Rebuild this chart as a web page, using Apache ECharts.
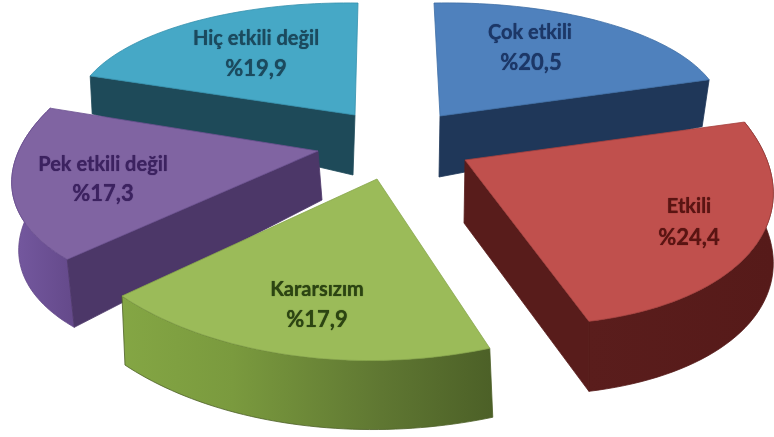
<!DOCTYPE html>
<html><head><meta charset="utf-8">
<style>html,body{margin:0;padding:0;background:#fff;overflow:hidden}#c{width:774px;height:437px;filter:blur(0.5px)}</style>
<script src="https://cdn.jsdelivr.net/npm/echarts@6/dist/echarts.min.js"></script>
</head><body><div id="c"></div>
<script>
var categories = ['Çok etkili','Etkili','Kararsızım','Pek etkili değil','Hiç etkili değil'];
var values = [20.5, 24.4, 17.9, 17.3, 19.9];

// Layout: each exploded slice has its own perspective frame (ellipse axes) as in the 3-D original.
var apex = [[440,116],[465,160],[377,179],[318,151],[355,115]];
var axisA = [[282,-5],[300,9],[355,7],[299,-5],[280,4]];
var axisB = [[-6,-113],[-31,-167],[-1,-176],[51,-151],[3,-112]];
var bulge = [0,.03,.04,.01,0];
var depthInner = [61,63,69,49,60];
var depthOuter = [47,70,69,68,38];
var tiltOuter = [-7,0,3,7,2];
var tiltInner = [-1,-1,0,4,-2];
var paintRank = [1,3,4,2,0];
var walls = [['end'],['end','rim'],['rim'],['start','rim'],['start']];
var labelName = [[530,33],[689,207],[317,290],[103,165],[256,39]];
var labelValue = [[531,63],[689,238],[317,320],[103,194],[256,69]];
var topColor = ['#4f81bd','#c0504d','#9bbb59','#8064a2','#46a8c6'];
var topEdge = ['#3f6ea6','#a5403e','#86a64a','#6b5090','#3590ad'];
var edgeColor = ['#1f3759','#581c1b','#4f6a2a','#4c3768','#1e4a59'];
var rimStops = [null,[['#5a1d1c',0],['#561a19',1]],[['#84a644',0],['#7a9a3e',.3],['#5f7732',.7],['#4c6027',1]],[['#7559a0',0],['#64498a',1]],null];
var textColor = ['#1c3767','#5a1412','#2c4412','#3c2260','#1b4a5e'];

var total = values.reduce(function(a,b){return a+b;},0);
function startAngle(i){var s=0;for(var k=0;k<i;k++)s+=values[k];return s/total*Math.PI*2;}
function rimPoint(i,t,u){var g=1+bulge[i]*Math.sin(Math.PI*u);
  return [apex[i][0]+g*(axisA[i][0]*Math.sin(t)+axisB[i][0]*Math.cos(t)),
          apex[i][1]+g*(axisA[i][1]*Math.sin(t)+axisB[i][1]*Math.cos(t))];}
function drop(i,p){return [p[0]+tiltOuter[i],p[1]+depthOuter[i]];}
function poly(points,fill,stroke,z){return {type:'polygon',shape:{points:points},z2:z,silent:true,
  style:{fill:fill,stroke:stroke,lineWidth:.8,lineJoin:'round'}};}
function label(pos,text,size,color){return {type:'text',z2:100,silent:true,style:{x:pos[0],y:pos[1],text:text,
  fill:color,font:'bold '+size+'px Lato',align:'center',verticalAlign:'middle',textShadowColor:color,textShadowBlur:1}};}

function renderItem(params,api){
  var i=params.dataIndex, v=api.value(0), a0=startAngle(i), a1=a0+v/total*Math.PI*2;
  var rank=paintRank[i]*10, arc=[], n=48;
  for(var k=0;k<=n;k++){arc.push(rimPoint(i,a0+(a1-a0)*k/n,k/n));}
  var ap=apex[i], apLow=[ap[0]+tiltInner[i],ap[1]+depthInner[i]], kids=[];
  walls[i].forEach(function(w){
    if(w==='rim'){
      var low=arc.map(function(p){return drop(i,p);}).reverse();
      var st=rimStops[i].map(function(s){return {color:s[0],offset:s[1]};});
      kids.push(poly(arc.concat(low),{type:'linear',x:0,y:0,x2:1,y2:0,colorStops:st},st[st.length-1].color,rank+1));
    }else{
      var e=w==='end'?arc[n]:arc[0];
      kids.push(poly([ap,e,drop(i,e),apLow],edgeColor[i],edgeColor[i],rank+2));
    }
  });
  kids.push(poly([ap].concat(arc),topColor[i],topEdge[i],rank+3));
  kids.push(label(labelName[i],categories[i],20,textColor[i]));
  kids.push(label(labelValue[i],'%'+v.toFixed(1).replace('.',','),22,textColor[i]));
  return {type:'group',children:kids};
}
var chart=echarts.init(document.getElementById('c'),null,{renderer:'canvas'});
chart.setOption({animation:false,backgroundColor:'#fff',
  series:[{type:'custom',coordinateSystem:'none',renderItem:renderItem,
    data:values.map(function(v,i){return {name:categories[i],value:[v]};})}]});
</script></body></html>
